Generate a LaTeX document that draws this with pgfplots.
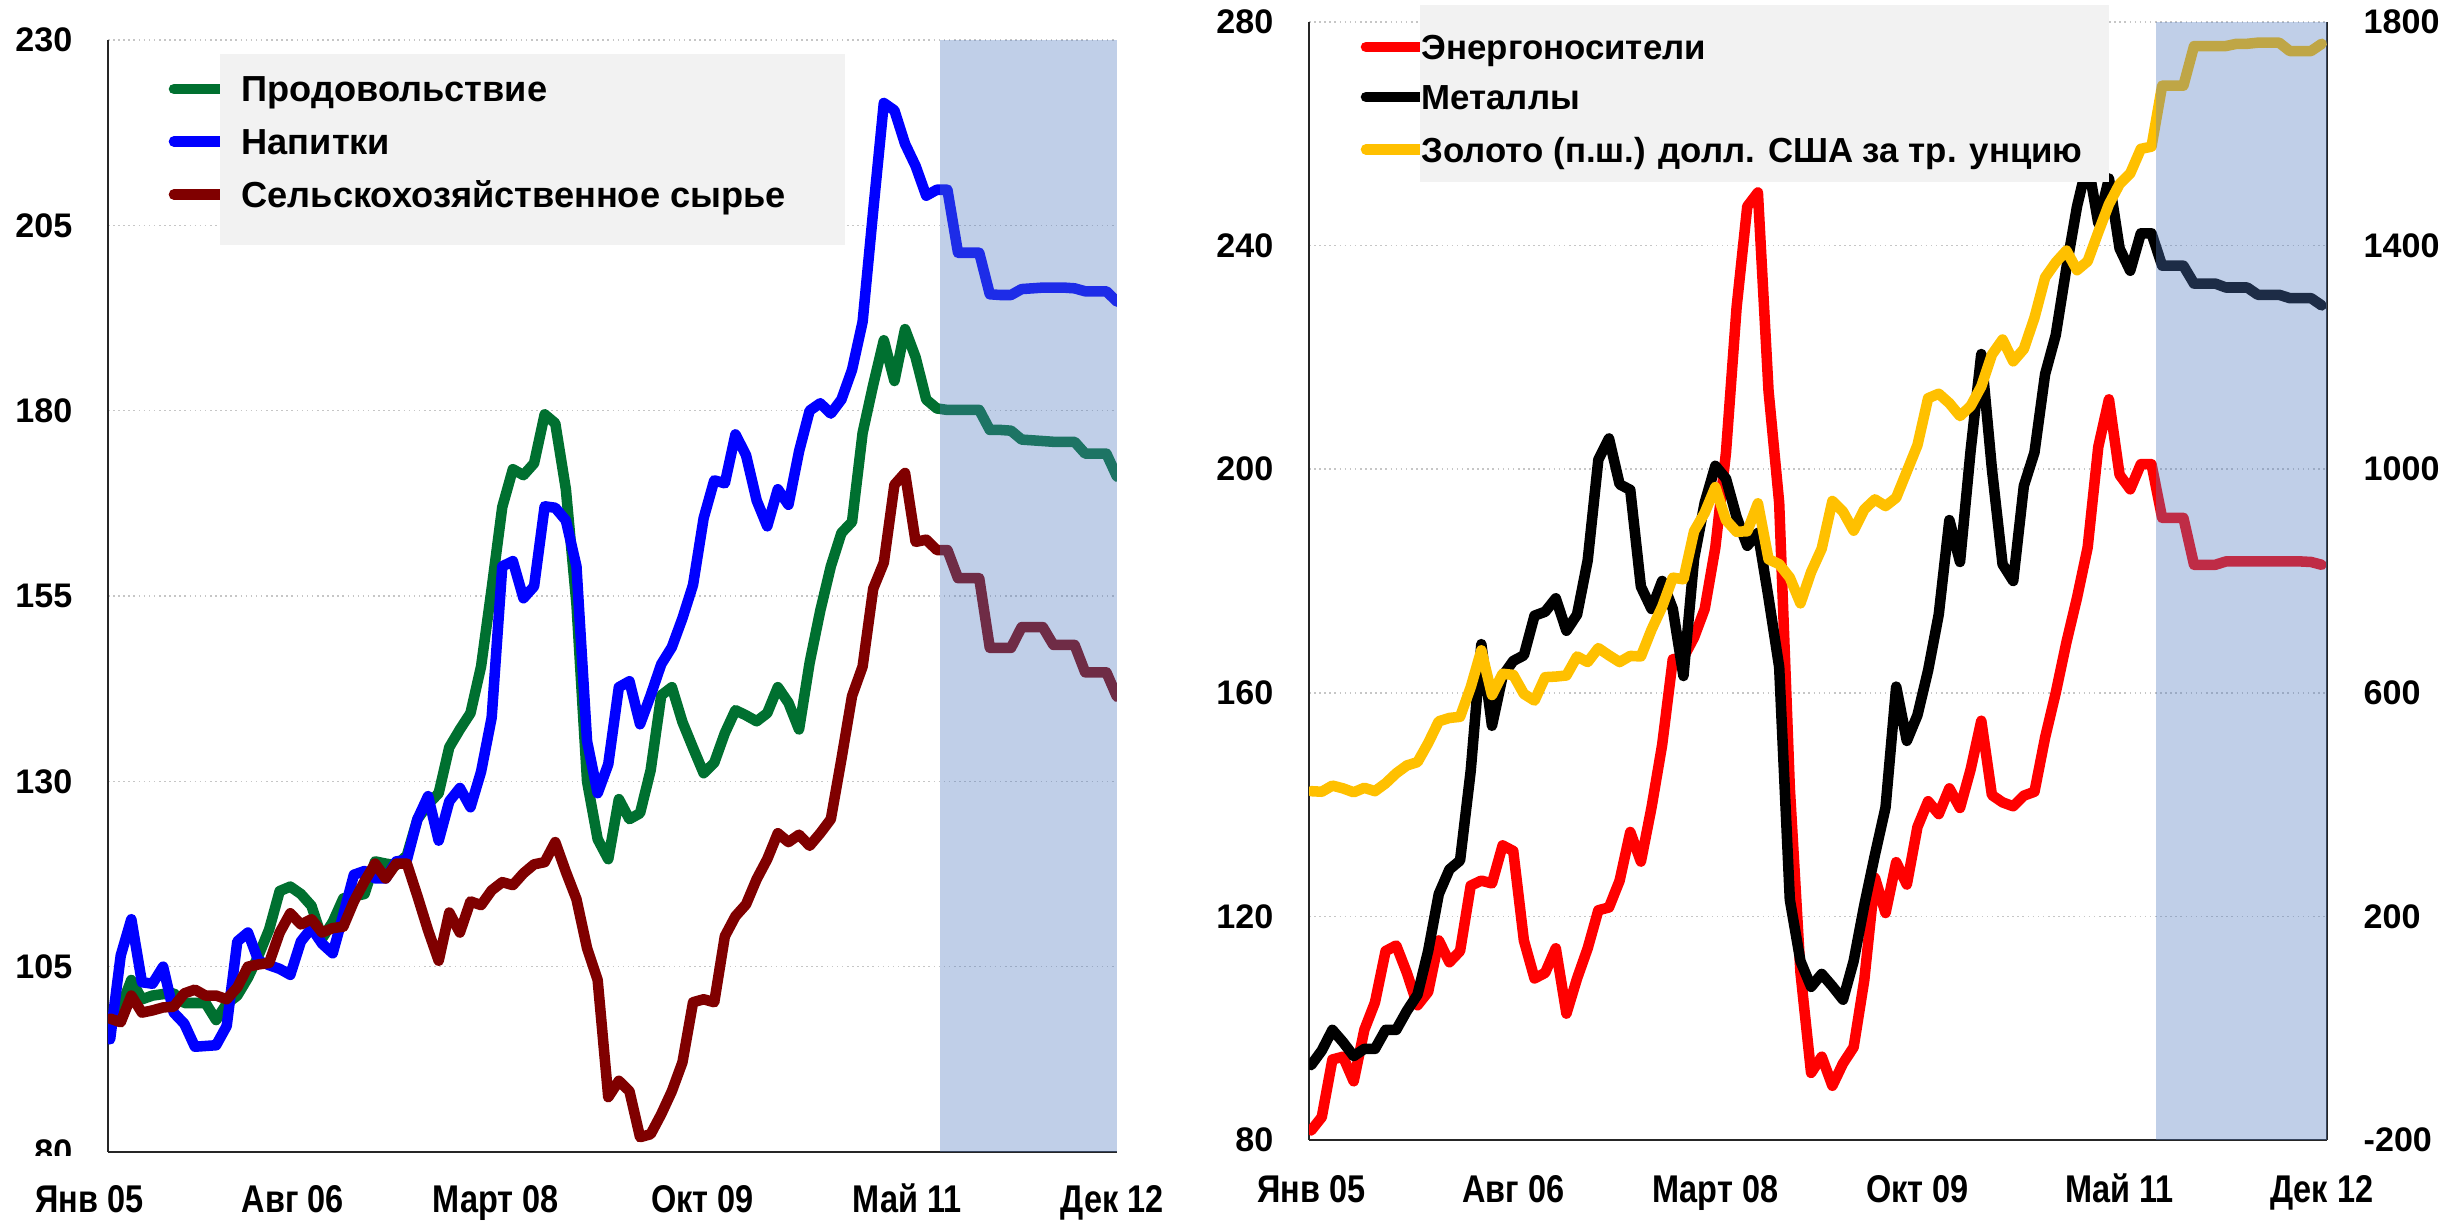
\documentclass[border=0pt]{standalone}
\usepackage{fontspec}
\setmainfont{Liberation Sans}
\newfontfamily\narrowfont[FakeStretch=0.84]{Liberation Sans}
\usepackage{pgfplots}
\pgfplotsset{compat=1.18}
\usepackage{pgfplotstable}

\definecolor{cgreen}{RGB}{0,112,48}
\definecolor{cblue}{RGB}{0,0,255}
\definecolor{cdred}{RGB}{128,0,0}
\definecolor{cred}{RGB}{255,0,0}
\definecolor{cgold}{RGB}{255,192,0}
\definecolor{shadec}{RGB}{82,123,192}
\definecolor{legbg}{RGB}{242,242,242}

\pgfplotstableread{
i g b r
0 97.5 95.2 98.0
1 99.5 106.5 97.5
2 103.2 111.4 101.1
3 100.6 102.9 98.8
4 101.1 102.7 99.1
5 101.3 105.0 99.5
6 101.4 98.8 99.6
7 100.1 97.3 101.4
8 100.1 94.2 101.9
9 100.1 94.3 101.1
10 97.8 94.4 101.1
11 100.0 97.0 100.6
12 101.1 108.4 102.2
13 103.5 109.6 105.0
14 106.5 105.8 105.3
15 110.0 105.2 105.5
16 115.2 104.7 109.6
17 115.8 103.9 112.2
18 114.8 108.4 110.7
19 113.2 110.2 111.4
20 108.8 108.1 109.6
21 111.0 106.8 110.2
22 114.2 112.0 110.4
23 114.5 117.4 113.8
24 114.8 117.9 116.5
25 119.2 116.9 118.9
26 118.9 116.9 116.9
27 118.7 119.2 118.9
28 120.0 119.4 118.9
29 124.9 124.9 114.5
30 126.9 128.0 109.9
31 128.4 122.0 105.8
32 134.6 127.3 112.3
33 137.0 129.1 109.6
34 139.2 126.5 113.8
35 145.5 131.3 113.3
36 156.0 138.6 115.3
37 167.0 159.0 116.4
38 172.1 159.7 116.0
39 171.3 154.7 117.6
40 172.9 156.3 118.8
41 179.5 167.1 119.1
42 178.3 166.9 121.8
43 169.4 165.2 117.8
44 153.9 159.0 114.1
45 130.0 135.4 107.5
46 122.2 128.4 103.2
47 119.5 132.3 87.4
48 127.6 142.7 89.6
49 124.9 143.5 88.2
50 125.7 137.7 82.0
51 131.5 141.6 82.4
52 141.6 145.8 85.1
53 142.7 148.1 88.2
54 138.0 152.0 92.1
55 134.5 156.5 100.2
56 131.1 165.5 100.6
57 132.5 170.6 100.2
58 136.5 170.2 109.1
59 139.6 176.8 111.8
60 138.9 174.0 113.4
61 138.1 167.9 116.8
62 139.2 164.4 119.5
63 142.7 169.4 123.0
64 140.6 167.3 121.8
65 137.0 174.5 122.8
66 146.0 180.0 121.3
67 153.0 181.0 123.0
68 159.0 179.6 124.9
69 163.5 181.5 133.0
70 165.0 185.5 141.5
71 177.0 192.0 145.5
72 183.5 207.0 156.0
73 189.5 221.5 159.5
74 184.0 220.5 170.0
75 191.0 216.0 171.6
76 187.2 213.0 162.3
77 181.5 209.0 162.6
78 180.3 209.8 161.2
79 180.1 209.8 161.2
80 180.1 201.3 157.4
81 180.1 201.3 157.4
82 180.1 201.3 157.4
83 177.4 195.7 148.0
84 177.4 195.6 148.0
85 177.3 195.6 148.0
86 176.1 196.4 150.8
87 176.0 196.5 150.8
88 175.9 196.6 150.8
89 175.8 196.6 148.4
90 175.8 196.6 148.4
91 175.8 196.5 148.4
92 174.2 196.1 144.7
93 174.2 196.1 144.7
94 174.2 196.1 144.7
95 171.1 194.7 141.4
}\leftdata

\pgfplotstableread{
i e k au
0 81.7 93.4 424
1 84.1 96.0 423
2 94.4 99.7 434
3 94.9 97.5 429
4 90.5 95.0 422
5 99.7 96.3 430
6 104.6 96.3 424
7 113.8 99.7 438
8 114.8 99.7 456
9 109.9 103.1 470
10 104.1 106.0 476
11 106.5 113.8 510
12 115.7 124.0 549
13 111.8 128.4 555
14 113.8 130.0 557
15 125.5 146.0 610
16 126.4 168.7 676
17 125.9 154.1 596
18 132.7 163.0 634
19 131.7 165.7 632
20 115.7 166.7 598
21 108.9 173.8 586
22 109.9 174.5 628
23 114.3 176.9 629
24 102.6 171.1 631
25 108.9 174.0 665
26 114.3 183.7 655
27 121.1 201.7 680
28 121.6 205.5 667
29 126.4 197.3 655
30 135.1 196.3 666
31 129.8 179.0 665
32 139.5 175.0 713
33 150.7 180.0 754
34 166.0 175.0 806
35 166.3 163.0 803
36 169.9 184.0 889
37 175.0 194.0 922
38 186.0 200.6 968
39 203.0 198.3 909
40 229.0 191.4 888
41 247.0 186.3 889
42 249.5 188.6 939
43 214.0 177.0 839
44 194.0 164.6 830
45 143.0 123.0 806
46 110.0 112.0 760
47 92.0 107.4 816
48 94.9 109.7 858
49 89.7 107.5 943
50 93.7 105.1 924
51 96.6 112.0 890
52 108.6 122.0 928
53 126.9 131.0 946
54 120.6 139.5 934
55 129.7 161.1 949
56 125.7 151.4 996
57 136.0 156.0 1043
58 140.6 164.0 1127
59 138.3 174.0 1135
60 142.9 190.9 1118
61 139.4 183.4 1095
62 146.3 203.4 1113
63 155.0 220.6 1148
64 141.7 200.0 1205
65 140.4 183.0 1232
66 139.7 180.0 1193
67 141.6 197.0 1215
68 142.3 203.0 1271
69 152.0 217.0 1343
70 160.0 224.0 1370
71 169.0 236.0 1391
72 177.0 247.0 1356
73 186.0 255.0 1372
74 204.0 244.0 1424
75 212.5 252.0 1474
76 199.0 239.5 1510
77 196.4 235.5 1529
78 200.9 242.2 1573
79 200.9 242.2 1577
80 191.3 236.4 1686
81 191.3 236.4 1686
82 191.3 236.4 1686
83 182.9 233.2 1757
84 182.9 233.2 1757
85 182.9 233.2 1757
86 183.5 232.5 1757
87 183.5 232.5 1761
88 183.5 232.5 1761
89 183.5 231.2 1763
90 183.5 231.2 1763
91 183.5 231.2 1763
92 183.5 230.6 1748
93 183.5 230.6 1748
94 183.4 230.6 1748
95 182.9 229.3 1761
}\rightdata

\pgfplotsset{
  base/.style={
    scale only axis,
    clip mode=individual,
    major tick length=0pt,
    axis line style={line width=0.7pt, black!85, -},
    grid style={gray!45, line width=0.45pt, densely dotted},
    /pgf/number format/assume math mode=true,
    /pgf/number format/1000 sep={},
    yticklabel style={font=\fontsize{9.7}{11}\selectfont\bfseries, inner sep=0pt},
    xticklabel style={font=\narrowfont\bfseries\fontsize{11}{13}\selectfont, inner sep=0pt, anchor=north, text height=0.72em, text depth=0pt},
    every axis plot/.append style={line width=3pt, line join=round, line cap=round},
  },
}
\tikzset{
  xlab/.style={anchor=north, inner sep=0pt, text height=0.72em, text depth=0pt, yshift=-0.34cm,
        font=\narrowfont\bfseries\fontsize{11}{13}\selectfont},
}

\begin{document}
\begin{tikzpicture}
\path[use as bounding box] (0,0) rectangle (24.62,12.21);

% ---------------- Left panel ----------------
\begin{axis}[base,
  at={(1.08cm,0.69cm)}, anchor=south west,
  width=10.09cm, height=11.12cm,
  xmin=-0.2, xmax=95, ymin=80, ymax=230,
  ytick={80,105,130,155,180,205,230},
  xtick=\empty,
  axis x line*=bottom, axis y line*=left,
  ymajorgrids,
  yticklabel style={anchor=east, xshift=-0.35cm},
]
\addplot[cgreen] table[x=i,y=g]{\leftdata};
\addplot[cblue] table[x=i,y=b]{\leftdata};
\addplot[cdred] table[x=i,y=r]{\leftdata};
\fill[shadec, fill opacity=0.365] (axis cs:78.3,80) rectangle (axis cs:95,230);
\node[xlab] at (axis cs:-1.98,80) {Янв 05};
\node[xlab] at (axis cs:17.25,80) {Авг 06};
\node[xlab] at (axis cs:36.38,80) {Март 08};
\node[xlab] at (axis cs:55.89,80) {Окт 09};
\node[xlab] at (axis cs:75.21,80) {Май 11};
\node[xlab] at (axis cs:94.53,80) {Дек 12};
\end{axis}

% ---------------- Right panel ----------------
\begin{axis}[base,
  at={(13.09cm,0.81cm)}, anchor=south west,
  width=10.18cm, height=11.18cm,
  xmin=-0.2, xmax=95.5, ymin=80, ymax=280,
  ytick={80,120,160,200,240,280},
  xtick={0,19,38,57,76,95},
  xticklabels={Янв 05, Авг 06, Март 08, Окт 09, Май 11, Дек 12},
  xticklabel style={yshift=-0.36cm},
  axis x line*=bottom, axis y line*=left,
  ymajorgrids,
  yticklabel style={anchor=east, xshift=-0.35cm},
]
\addplot[cred] table[x=i,y=e]{\rightdata};
\addplot[black] table[x=i,y=k]{\rightdata};
\end{axis}

\begin{axis}[base,
  at={(13.09cm,0.81cm)}, anchor=south west,
  width=10.18cm, height=11.18cm,
  xmin=-0.2, xmax=95.5, ymin=-200, ymax=1800,
  ytick={-200,200,600,1000,1400,1800},
  xtick=\empty,
  axis x line=none, axis y line*=right,
  yticklabel style={anchor=west, xshift=0.36cm},
]
\addplot[cgold] table[x=i,y=au]{\rightdata};
\fill[shadec, fill opacity=0.365] (axis cs:79.4,-200) rectangle (axis cs:95.5,1800);
\end{axis}

% hide lower half of the "80" label (as in the reference)
\fill[white] (0,0.41) rectangle (1.0,0.65);

% ---------------- Legends ----------------
\begin{scope}[line width=3pt, line cap=round]
  \draw[cgreen] (1.74,11.32) -- (2.30,11.32);
  \draw[cblue]  (1.74,10.795) -- (2.30,10.795);
  \draw[cdred]  (1.74,10.265) -- (2.30,10.265);
  \draw[cred]   (13.66,11.74) -- (14.25,11.74);
  \draw[black]  (13.66,11.24) -- (14.25,11.24);
  \draw[cgold]  (13.66,10.715) -- (14.25,10.715);
\end{scope}
\fill[legbg] (2.20,9.76) rectangle (8.45,11.67);
\fill[legbg] (14.20,10.39) rectangle (21.09,12.16);
\begin{scope}[every node/.style={anchor=base west, inner sep=0pt, font=\fontsize{10.3}{12}\selectfont\bfseries}]
  \node at (2.41,11.19) {Продовольствие};
  \node at (2.41,10.665) {Напитки};
  \node at (2.41,10.135) {Сельскохозяйственное сырье};
\end{scope}
\begin{scope}[every node/.style={anchor=base west, inner sep=0pt, font=\fontsize{9.9}{12}\selectfont\bfseries}]
  \node at (14.21,11.614) {Энергоносители};
  \node at (14.21,11.114) {Металлы};
  \node at (14.21,10.589) {Золото (п.ш.) долл. США за тр. унцию};
\end{scope}
\end{tikzpicture}
\end{document}
